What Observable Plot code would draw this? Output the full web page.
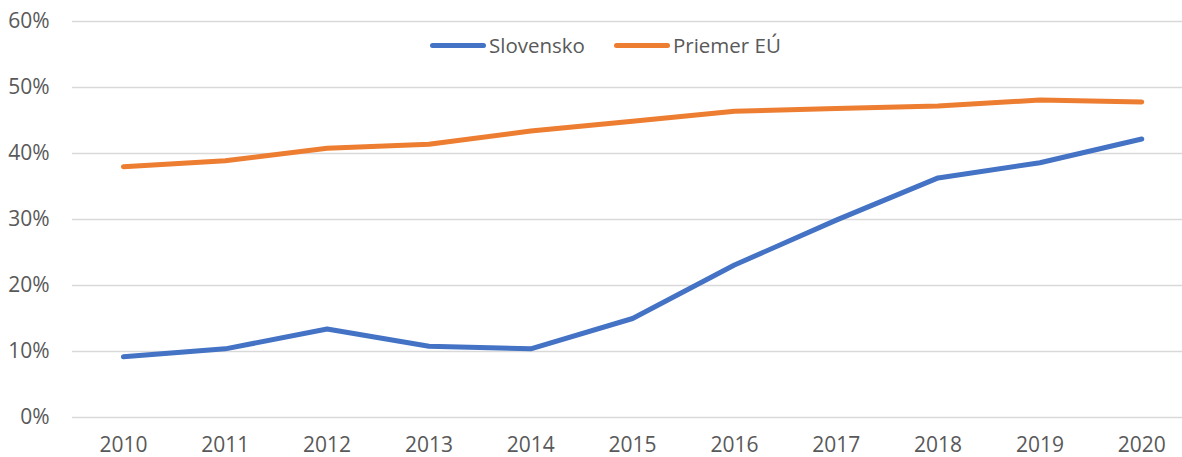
<!DOCTYPE html>
<html>
<head>
<meta charset="utf-8">
<script src="https://cdn.jsdelivr.net/npm/d3@7"></script>
<script src="https://cdn.jsdelivr.net/npm/@observablehq/plot@0.6"></script>
<style>
  html, body { margin: 0; padding: 0; background: #fff; }
  #wrap { position: relative; width: 1182px; height: 457px; font-family: "Open Sans", sans-serif; }
  #legend { position: absolute; top: 31px; left: 430px; display: flex; align-items: center; font-size: 20.5px; color: #595959; }
  .item { display: flex; align-items: center; margin-right: 29px; }
  .swatch { width: 56px; height: 5px; border-radius: 3px; margin-right: 3px; }
</style>
</head>
<body>
<div id="wrap"><div id="legend"></div></div>
<script>
const years = [2010, 2011, 2012, 2013, 2014, 2015, 2016, 2017, 2018, 2019, 2020];
const slovensko = [0.092, 0.104, 0.134, 0.108, 0.104, 0.150, 0.231, 0.299, 0.363, 0.386, 0.422];
const priemerEU = [0.380, 0.389, 0.408, 0.414, 0.434, 0.449, 0.464, 0.468, 0.472, 0.481, 0.478];
const seriesNames = ["Slovensko", "Priemer EÚ"];
const seriesColors = ["#4472C4", "#ED7D31"];
const yTicks = [0, 0.1, 0.2, 0.3, 0.4, 0.5, 0.6];

const data = [
  ...years.map((y, i) => ({year: y, value: slovensko[i], series: seriesNames[0]})),
  ...years.map((y, i) => ({year: y, value: priemerEU[i], series: seriesNames[1]}))
];

const chart = Plot.plot({
  width: 1182,
  height: 457,
  marginLeft: 72,
  marginRight: 0,
  marginTop: 21,
  marginBottom: 40,
  style: {fontFamily: "Open Sans, sans-serif", fontSize: "21px", color: "#595959", background: "transparent"},
  x: {type: "linear", domain: [2009.5, 2020.4], ticks: years, tickFormat: d => String(d)},
  y: {domain: [0, 0.6], ticks: yTicks, tickFormat: d3.format(".0%")},
  color: {domain: seriesNames, range: seriesColors},
  marks: [
    Plot.ruleY(yTicks, {stroke: "#D9D9D9", strokeWidth: 1.5}),
    Plot.axisY({ticks: yTicks, tickFormat: d3.format(".0%"), tickSize: 0, tickPadding: 23, label: null, fill: "#595959"}),
    Plot.axisX({ticks: years, tickFormat: d => String(d), tickSize: 0, tickPadding: 20, label: null, fill: "#595959"}),
    Plot.line(data, {x: "year", y: "value", z: "series", stroke: "series", strokeWidth: 5, strokeLinecap: "round", strokeLinejoin: "round"})
  ]
});
document.getElementById("wrap").prepend(chart);

const legend = document.getElementById("legend");
seriesNames.forEach((n, i) => {
  const it = document.createElement("div");
  it.className = "item";
  it.innerHTML = `<div class="swatch" style="background:${seriesColors[i]}"></div><span>${n}</span>`;
  legend.appendChild(it);
});
</script>
</body>
</html>
